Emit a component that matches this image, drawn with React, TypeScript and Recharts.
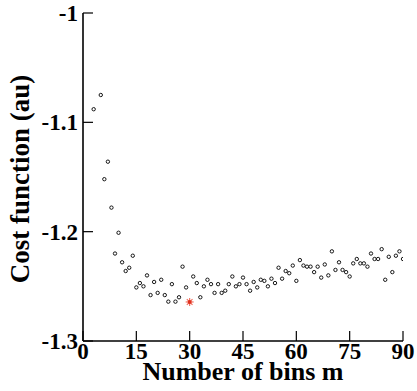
import React from 'react';
import { ScatterChart, Scatter, XAxis, YAxis } from 'recharts';

const bins = [3, 5, 6, 7, 8, 9, 10, 11, 12, 13, 14, 15, 16, 17, 18, 19, 20, 21, 22, 23, 24, 25, 26, 27, 28, 29,
  31, 32, 33, 34, 35, 36, 37, 38, 39, 40, 41, 42, 43, 44, 45, 46, 47, 48, 49, 50, 51, 52, 53, 54, 55, 56, 57, 58, 59, 60,
  61, 62, 63, 64, 65, 66, 67, 68, 69, 70, 71, 72, 73, 74, 75, 76, 77, 78, 79, 80, 81, 82, 83, 84, 85, 86, 87, 88, 89, 90];
const cost = [-1.088, -1.075, -1.152, -1.136, -1.178, -1.220, -1.201, -1.228, -1.236, -1.233, -1.222, -1.251, -1.247, -1.250,
  -1.240, -1.258, -1.246, -1.256, -1.244, -1.258, -1.264, -1.248, -1.264, -1.260, -1.232, -1.251,
  -1.241, -1.247, -1.260, -1.250, -1.244, -1.248, -1.256, -1.248, -1.256, -1.254, -1.248, -1.241, -1.250, -1.248,
  -1.242, -1.248, -1.254, -1.246, -1.251, -1.244, -1.245, -1.250, -1.243, -1.247, -1.233, -1.243, -1.236, -1.238, -1.231, -1.245,
  -1.226, -1.231, -1.232, -1.232, -1.237, -1.232, -1.242, -1.230, -1.240, -1.218, -1.235, -1.228, -1.235, -1.237, -1.241,
  -1.229, -1.225, -1.229, -1.229, -1.232, -1.220, -1.225, -1.225, -1.216, -1.244, -1.223, -1.237, -1.222, -1.218, -1.225];
const minBin = [30];
const minCost = [-1.2643];

const xMajor = [0, 15, 30, 45, 60, 75, 90];
const xMinor = [7.5, 22.5, 37.5, 52.5, 67.5, 82.5];
const yMajor = [-1.3, -1.2, -1.1, -1];
const yMinor = [-1.25, -1.15, -1.05];

const points = bins.map((b, i) => ({ x: b, y: cost[i] }));
const minPoints = minBin.map((b, i) => ({ x: b, y: minCost[i] }));
const noPoints: { x: number; y: number }[] = [];

const FONT = "'Liberation Serif', 'Times New Roman', serif";
const XDOM: [number, number] = [0, 90];
const YDOM: [number, number] = [-1.3, -1];

const tickText = { fill: '#000', fontSize: 23, fontFamily: FONT, fontWeight: 700 };
const tickLn = { stroke: '#000', strokeWidth: 1.2 };
const axisLn = { stroke: '#000', strokeWidth: 1.6 };

const Circle = (p: any) => (
  <circle cx={p.cx} cy={p.cy} r={1.7} fill="#fff" stroke="#000" strokeWidth={0.9} />
);

const StarMark = (p: any) => {
  const angles = [0, 45, 90, 135];
  return (
    <g>
      {angles.map((a) => {
        const r = (a * Math.PI) / 180;
        const dx = Math.cos(r) * 4;
        const dy = Math.sin(r) * 4;
        return (
          <line key={a} x1={p.cx - dx} y1={p.cy - dy} x2={p.cx + dx} y2={p.cy + dy} stroke="#f06a5a" strokeWidth={1.1} />
        );
      })}
      <circle cx={p.cx} cy={p.cy} r={2} fill="#e0301e" />
    </g>
  );
};

export default function App() {
  return (
    <div style={{ position: 'absolute', left: 0, top: 0, background: '#fff' }}>
      <ScatterChart width={417} height={391} margin={{ top: 13, right: 14, bottom: 0, left: 0 }}>
        <XAxis xAxisId="bm" type="number" dataKey="x" domain={XDOM} allowDataOverflow ticks={xMinor} interval={0}
          height={0} tickSize={-5} tick={false} tickLine={tickLn} axisLine={false} stroke="#000" />
        <XAxis
          xAxisId="b"
          type="number"
          dataKey="x"
          domain={XDOM}
          allowDataOverflow
          ticks={xMajor}
          interval={0}
          height={50}
          tickSize={-10}
          tickMargin={12}
          tickLine={tickLn}
          axisLine={axisLn}
          stroke="#000"
          tick={tickText}
          label={{
            content: (props: any) => {
              const vb = props.viewBox;
              return (
                <text x={vb.x + vb.width / 2} y={vb.y + 39} textAnchor="middle" fontFamily={FONT} fontWeight={700} fontSize={26} fill="#000">
                  Number of bins m
                </text>
              );
            },
          }}
        />
        <XAxis xAxisId="tm" orientation="top" type="number" dataKey="x" domain={XDOM} allowDataOverflow ticks={xMinor} interval={0}
          height={0} tickSize={-5} tick={false} tickLine={tickLn} axisLine={false} stroke="#000" />
        <XAxis xAxisId="t" orientation="top" type="number" dataKey="x" domain={XDOM} allowDataOverflow ticks={xMajor} interval={0}
          height={0} tickSize={-10} tick={false} tickLine={tickLn} axisLine={axisLn} stroke="#000" />
        <YAxis yAxisId="lm" type="number" dataKey="y" domain={YDOM} allowDataOverflow ticks={yMinor} interval={0}
          width={0} tickSize={-5} tick={false} tickLine={tickLn} axisLine={false} stroke="#000" />
        <YAxis
          yAxisId="l"
          type="number"
          dataKey="y"
          domain={YDOM}
          allowDataOverflow
          ticks={yMajor}
          interval={0}
          width={83}
          tickSize={-10}
          tickMargin={15}
          tickLine={tickLn}
          axisLine={axisLn}
          stroke="#000"
          tick={tickText}
          label={{
            content: (props: any) => {
              const vb = props.viewBox;
              const cx = 20;
              const cy = vb.y + vb.height / 2 + 2;
              return (
                <text x={cx} y={cy} transform={`rotate(-90, ${cx}, ${cy})`} textAnchor="middle" dominantBaseline="central" fontFamily={FONT} fontWeight={700} fontSize={27} fill="#000">
                  Cost function (au)
                </text>
              );
            },
          }}
        />
        <YAxis yAxisId="rm" orientation="right" type="number" dataKey="y" domain={YDOM} allowDataOverflow ticks={yMinor} interval={0}
          width={0} tickSize={-5} tick={false} tickLine={tickLn} axisLine={false} stroke="#000" />
        <YAxis yAxisId="r" orientation="right" type="number" dataKey="y" domain={YDOM} allowDataOverflow ticks={yMajor} interval={0}
          width={0} tickSize={-10} tick={false} tickLine={tickLn} axisLine={axisLn} stroke="#000" />
        <Scatter xAxisId="bm" yAxisId="lm" data={noPoints} isAnimationActive={false} />
        <Scatter xAxisId="tm" yAxisId="rm" data={noPoints} isAnimationActive={false} />
        <Scatter xAxisId="b" yAxisId="l" data={points} shape={<Circle />} isAnimationActive={false} />
        <Scatter xAxisId="t" yAxisId="r" data={minPoints} shape={<StarMark />} isAnimationActive={false} />
      </ScatterChart>
    </div>
  );
}
